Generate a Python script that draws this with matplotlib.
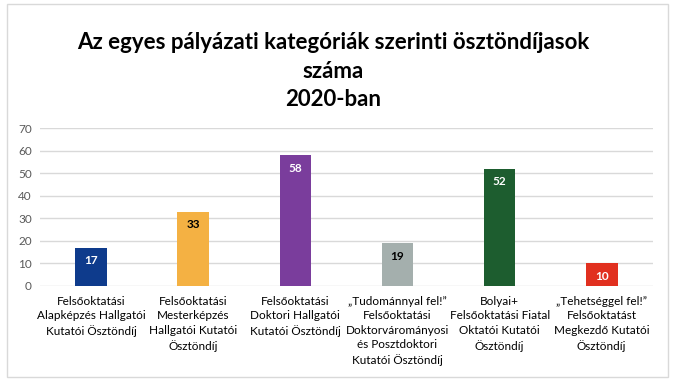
import matplotlib.pyplot as plt
from matplotlib.patches import Rectangle

plt.rcParams["font.family"] = ["Lato", "DejaVu Sans"]

categories = [
    "Felsőoktatási\nAlapképzés Hallgatói\nKutatói Ösztöndíj",
    "Felsőoktatási\nMesterképzés\nHallgatói Kutatói\nÖsztöndíj",
    "Felsőoktatási\nDoktori Hallgatói\nKutatói Ösztöndíj",
    "„Tudománnyal fel!”\nFelsőoktatási\nDoktorvárományosi\nés Posztdoktori\nKutatói Ösztöndíj",
    "Bolyai+\nFelsőoktatási Fiatal\nOktatói Kutatói\nÖsztöndíj",
    "„Tehetséggel fel!”\nFelsőoktatást\nMegkezdő Kutatói\nÖsztöndíj",
]
values = [17, 33, 58, 19, 52, 10]
colors = ["#0E3B8C", "#F4B143", "#7A3D9C", "#A4AFAD", "#1D5D2F", "#E1301F"]
label_colors = ["white", "black", "white", "black", "white", "white"]
yticks = [0, 10, 20, 30, 40, 50, 60, 70]

fig = plt.figure(figsize=(6.8, 3.88), dpi=100)
fig.patches.append(Rectangle((0.011, 0.028), 0.972, 0.962, transform=fig.transFigure,
                             fill=False, edgecolor="#D9D9D9", linewidth=1))

ax = fig.add_axes([0.059, 0.263, 0.901, 0.407])
x = range(len(values))
ax.bar(x, values, width=0.31, color=colors, zorder=3)
for i, v in enumerate(values):
    ax.annotate(str(v), (i, v), xytext=(0, -9.5), textcoords="offset points",
                ha="center", va="center", fontsize=8.5, fontweight="bold",
                color=label_colors[i], zorder=4)

ax.set_xlim(-0.5, len(values) - 0.5)
ax.set_ylim(0, 70)
ax.set_yticks(yticks)
ax.grid(axis="y", color="#D9D9D9", linewidth=1, zorder=0)
for s in ax.spines.values():
    s.set_visible(False)
ax.tick_params(axis="y", length=0, labelsize=8.5, labelcolor="#595959", pad=6)
ax.set_xticks(list(x))
ax.set_xticklabels(categories, fontsize=8.5, linespacing=1.4)
ax.tick_params(axis="x", length=0, pad=7)

fig.text(0.49, 0.817, "Az egyes pályázati kategóriák szerinti ösztöndíjasok\nszáma\n2020-ban",
         ha="center", va="center", fontsize=16, fontweight="bold", linespacing=1.45)

fig.savefig("out.png", dpi=100)
